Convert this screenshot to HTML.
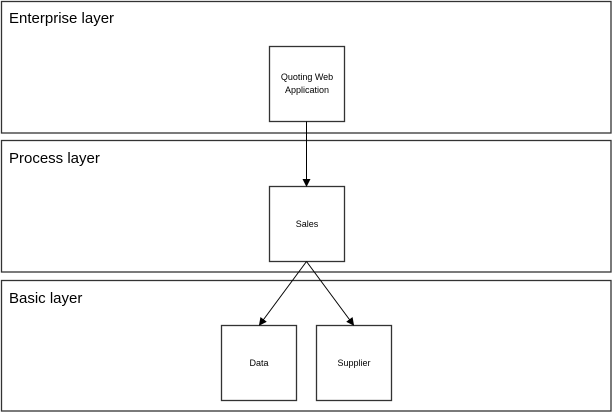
<!DOCTYPE html>
<html><head><style>body{margin:0;background:#fff}</style></head><body>
<svg width="613" height="413" xmlns="http://www.w3.org/2000/svg" style="display:block">
<defs><marker id="a" markerWidth="8" markerHeight="8" refX="7" refY="4" orient="auto" markerUnits="userSpaceOnUse"><path d="M0,0 L8,4 L0,8 z" fill="#000"/></marker></defs>
<g fill="#fff" stroke="#333" stroke-width="1.3">
<rect x="1.5" y="1.5" width="609.5" height="131.5"/>
<rect x="1.5" y="140.5" width="609.5" height="131.5"/>
<rect x="1.5" y="280.5" width="609.5" height="130.5"/>
<rect x="269.5" y="46.5" width="75" height="75"/>
<rect x="269.5" y="186.5" width="75" height="75"/>
<rect x="221.5" y="325.5" width="75" height="75"/>
<rect x="316.5" y="325.5" width="75" height="75"/>
</g>
<g stroke="#000" stroke-width="1" fill="none">
<line x1="306.5" y1="121.5" x2="306.5" y2="186" marker-end="url(#a)"/>
<line x1="306.5" y1="261.5" x2="259.5" y2="325" marker-end="url(#a)"/>
<line x1="306.5" y1="261.5" x2="353.5" y2="325" marker-end="url(#a)"/>
</g>
<g font-family="Liberation Sans, sans-serif" fill="#000">
<text x="9" y="23" font-size="15">Enterprise layer</text>
<text x="9" y="163" font-size="15">Process layer</text>
<text x="9" y="303" font-size="15">Basic layer</text>
<g font-size="9" text-anchor="middle">
<text x="307" y="80">Quoting Web</text>
<text x="307" y="93">Application</text>
<text x="307" y="227">Sales</text>
<text x="259" y="366">Data</text>
<text x="354" y="366">Supplier</text>
</g></g>
</svg>
</body></html>
